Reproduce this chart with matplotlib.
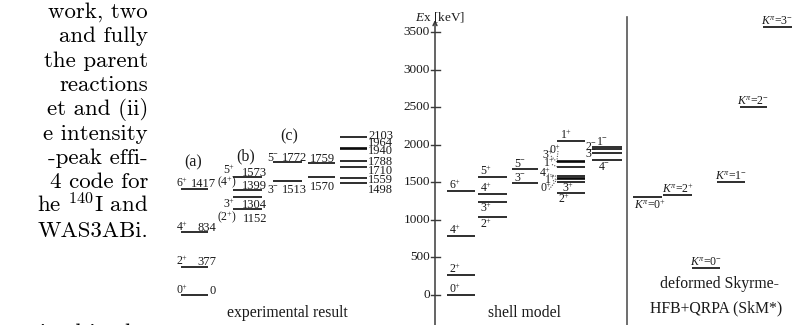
import matplotlib
matplotlib.use("Agg")
import matplotlib.pyplot as plt

plt.rcParams['mathtext.fontset'] = 'custom'
plt.rcParams['mathtext.rm'] = 'Liberation Serif'
plt.rcParams['mathtext.it'] = 'Liberation Serif:italic'
plt.rcParams['mathtext.bf'] = 'Liberation Serif:bold'
plt.rcParams['font.family'] = ['Liberation Serif', 'DejaVu Serif']

# ---------------- data ----------------
paper_lines = ["work, two", "and fully", "the parent", "reactions", "et and (ii)",
               "e intensity", "-peak effi-", "4 code for", "he $^{140}$I and",
               "WAS3ABi."]
paper_cut_line = "ined in the"

exp_a_E = [0, 377, 834, 1417]
exp_a_J = ["0^{+}", "2^{+}", "4^{+}", "6^{+}"]
exp_b_E = [1152, 1304, 1399, 1573]
exp_b_J = ["(2^{+})", "3^{+}", "(4^{+})", "5^{+}"]
exp_c1_E = [1513, 1772]
exp_c1_J = ["3^{-}", "5^{-}"]
exp_c2_E = [1570, 1759]
exp_c3_E = [1498, 1559, 1710, 1788, 1940, 1964, 2103]

sm_a_E = [0, 266, 786, 1390]
sm_a_J = ["0^{+}", "2^{+}", "4^{+}", "6^{+}"]
sm_b_E = [1043, 1237, 1346, 1575]
sm_b_J = ["2^{+}", "3^{+}", "4^{+}", "5^{+}"]
sm_c1_E = [1488, 1679]
sm_c1_J = ["3^{-}", "5^{-}"]
sm_c2_E = [1363, 1510, 1540, 1560, 1580, 1709, 1770, 1790, 2056]
sm_c2_J = ["2^{+}", "3^{+}", "0^{+}", "1^{+}", "4^{+}", "1^{+}", "3^{+}", "0^{+}", "1^{+}"]
sm_c3_E = [1799, 1888, 1946, 1976]
sm_c3_J = ["4^{-}", "3^{-}", "2^{-}", "1^{-}"]

qrpa_K = ["0^{-}", "0^{+}", "2^{+}", "1^{-}", "2^{-}", "3^{-}"]
qrpa_E = [365, 1310, 1332, 1510, 2509, 3574]

tick_E = [0, 500, 1000, 1500, 2000, 2500, 3000, 3500]

# ---------------- layout ----------------
S = 0.07506      # px per keV
Y0 = 295.0       # pixel row of 0 keV


def ypx(y):
    return (Y0 - y) / S


fig = plt.figure(figsize=(8.05, 3.25), dpi=100)
ax = fig.add_axes([0, 0, 1, 1])
ax.set_xlim(0, 805)
ax.set_ylim(ypx(325), ypx(0))
ax.axis('off')

TXT = '#1a1a1a'
LW = 1.15


def level(x0, x1, E, lw=LW):
    ax.plot([x0, x1], [E, E], color='black', lw=lw, solid_capstyle='butt')


def lab(x, E, s, dy=0.0, ha='left', va='baseline', size=8.0, **kw):
    ax.annotate(s, (x, E), xytext=(0, dy), textcoords='offset pixels',
                ha=ha, va=va, fontsize=size, color=TXT, **kw)


# paper text on the left
PFS = 16.5
for k, s in enumerate(paper_lines):
    ax.text(148, ypx(13 + 24.3 * k + 5), s, ha='right', va='baseline',
            fontsize=PFS, family=['cmr10', 'DejaVu Serif'],
            math_fontfamily='cm', color='black')
ax.text(148, ypx(334 + 5), paper_cut_line, ha='right', va='baseline',
        fontsize=PFS, family=['cmr10', 'DejaVu Serif'], color='black')

# ---------------- experimental ----------------
NUM = 9.0
JS = 8.5
for E, J in zip(exp_a_E, exp_a_J):
    level(181, 208, E)
    lab(176, E, f"${J}$", dy=1.5, size=JS)
    lab(216, E, f"{E}", dy=1.5, ha='right', size=NUM)

b_jx = [217, 223, 217, 223]
b_dy = [-13.0, -11.0, 1.0, 1.0]
b_jdy = [-12.5, -11.0, 4.0, 3.0]
for E, J, jx, dy, jdy in zip(exp_b_E, exp_b_J, b_jx, b_dy, b_jdy):
    level(233, 262, E)
    lab(jx, E, f"${J}$", dy=jdy, size=JS)
    lab(267, E, f"{E}", dy=dy, ha='right', size=NUM)

c1_dy = [-11.5, 0.5]
for E, J, dy in zip(exp_c1_E, exp_c1_J, c1_dy):
    level(273, 302, E)
    lab(267, E, f"${J}$", dy=dy, size=JS)
    lab(307, E, f"{E}", dy=dy, ha='right', size=NUM)

c2_dy = [-12.5, 0.5]
for E, dy in zip(exp_c2_E, c2_dy):
    level(308, 335, E)
    lab(335, E, f"{E}", dy=dy, ha='right', size=NUM)

c3_dy = [-5.9, -0.5, -3.3, -0.2, -0.6, 6.1, 2.7]
for E, dy in zip(exp_c3_E, c3_dy):
    level(340, 367, E)
    lab(368, E, f"{E}", dy=dy, va='center_baseline', size=NUM)

HS = 11.5
ax.text(193, ypx(162), "(a)", ha='center', va='center', fontsize=HS, color=TXT)
ax.text(246, ypx(156), "(b)", ha='center', va='center', fontsize=HS, color=TXT)
ax.text(289, ypx(136), "(c)", ha='center', va='center', fontsize=HS, color=TXT)
ax.text(287, ypx(313), "experimental result", ha='center', va='center',
        fontsize=11.3, color=TXT)

# ---------------- shell model ----------------
AX_C = '#3a3a3a'
ax.annotate('', xy=(435, ypx(20)), xytext=(435, ypx(326)),
            arrowprops=dict(arrowstyle='->', color=AX_C, lw=1.1,
                            mutation_scale=7, shrinkA=0, shrinkB=0))
for t in tick_E:
    ax.plot([431, 440], [t, t], color=AX_C, lw=1.0)
    ax.text(430, t, f"{t}", ha='right', va='center', fontsize=9.5, color=TXT)
ax.text(415, ypx(17), "$E$x [keV]", ha='left', va='center', fontsize=9.5, color=TXT)

for E, J in zip(sm_a_E, sm_a_J):
    level(447, 475, E)
    lab(449, E, f"${J}$", dy=2, size=JS)

smb_dy = [-11, -10, 2, 2]
for E, J, dy in zip(sm_b_E, sm_b_J, smb_dy):
    level(478, 507, E)
    lab(480, E, f"${J}$", dy=dy, size=JS)

for E, J in zip(sm_c1_E, sm_c1_J):
    level(512, 538, E)
    lab(514, E, f"${J}$", dy=2, size=JS)

# column c2: label placement
c2_mode = ['below', 'below', 'dot', 'dot', 'dot', 'dot', 'dot', 'dot', 'above']
c2_lx = [558, 562, 546, 550, 545, 549, 548, 555, 560]
c2_ly = [0, 0, 188.5, 180, 173, 163.5, 155, 150, 0]
for E, J, m, lx, ly in zip(sm_c2_E, sm_c2_J, c2_mode, c2_lx, c2_ly):
    level(557, 585, E)
    if m == 'above':
        lab(lx, E, f"${J}$", dy=2, size=JS)
    elif m == 'below':
        lab(lx, E, f"${J}$", dy=-10, size=JS)
    else:
        ax.text(lx, ypx(ly), f"${J}$", ha='center', va='center',
                fontsize=JS, color=TXT)
        ax.plot([lx + 3, 557], [ypx(ly + 1), E], color='#555555',
                lw=0.8, ls=(0, (1, 1.2)))

c3_mode = ['below', 'left', 'left', 'above']
c3_lx = [598, 585, 585, 596]
c3_ly = [0, 154, 147, 0]
for E, J, m, lx, ly in zip(sm_c3_E, sm_c3_J, c3_mode, c3_lx, c3_ly):
    level(592, 622, E)
    if m == 'above':
        lab(lx, E, f"${J}$", dy=2, size=JS)
    elif m == 'below':
        lab(lx, E, f"${J}$", dy=-10, size=JS)
    else:
        ax.text(lx, ypx(ly), f"${J}$", ha='left', va='center',
                fontsize=JS, color=TXT)

ax.text(524, ypx(313), "shell model", ha='center', va='center',
        fontsize=11.3, color=TXT)

# ---------------- deformed Skyrme-HFB+QRPA ----------------
ax.plot([627, 627], [ypx(17), ypx(326)], color='#555555', lw=1.2)
q_x0 = [692, 633, 663, 717, 740, 763]
q_x1 = [720, 662, 692, 745, 767, 792]
q_pos = ['above', 'below', 'above', 'above', 'above', 'above']
for K, E, x0, x1, p in zip(qrpa_K, qrpa_E, q_x0, q_x1, q_pos):
    level(x0, x1, E)
    s = r"$K^{\pi}$=" + f"${K}$"
    if p == 'above':
        lab((x0 + x1) / 2, E, s, dy=2, ha='center', size=8.5)
    else:
        lab(x0 + 1, E, s, dy=-2, ha='left', va='top', size=8.5)

ax.text(719, ypx(284), "deformed Skyrme-", ha='center', va='center',
        fontsize=11.3, color=TXT)
ax.text(716, ypx(308), "HFB+QRPA (SkM*)", ha='center', va='center',
        fontsize=11.3, color=TXT)

fig.savefig("out.png", dpi=100)
